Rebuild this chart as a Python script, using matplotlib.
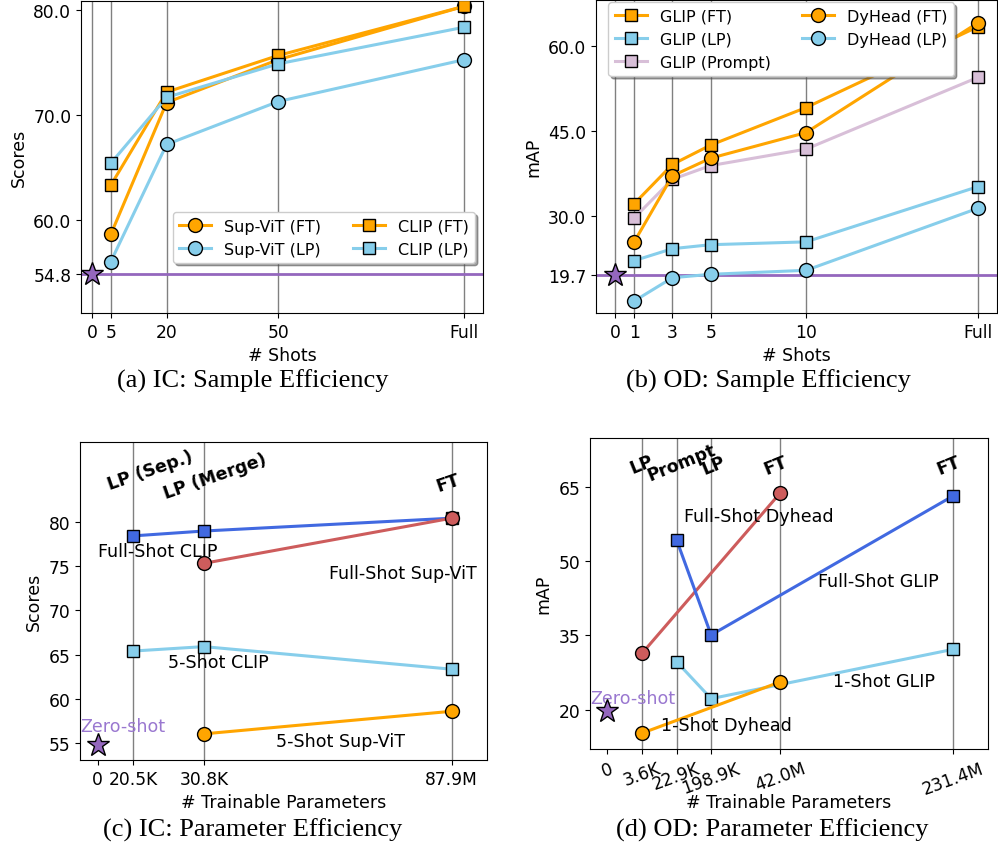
import numpy as np
import matplotlib
matplotlib.use("Agg")
import matplotlib.pyplot as plt

# (a) IC sample efficiency
ic_shots = [5, 20, 50, 100]
ic_shot_labels = ["0", "5", "20", "50", "Full"]
supvit_ft = [58.6, 71.2, 75.3, 80.4]
supvit_lp = [56.0, 67.2, 71.3, 75.3]
clip_ft = [63.3, 72.2, 75.7, 80.4]
clip_lp = [65.4, 71.7, 74.9, 78.4]
ic_zero = 54.8

# (b) OD sample efficiency
od_shots = [1, 3, 5, 10, 19]
od_shot_labels = ["0", "1", "3", "5", "10", "Full"]
glip_ft = [32.2, 39.1, 42.5, 49.1, 63.3]
glip_lp = [22.2, 24.3, 25.0, 25.5, 35.2]
glip_prompt = [29.7, 36.5, 38.9, 41.8, 54.4]
dyhead_ft = [25.5, 37.1, 40.2, 44.7, 64.0]
dyhead_lp = [15.1, 19.2, 19.8, 20.5, 31.4]
od_zero = 19.7

# (c) IC parameter efficiency
ic_param_pos = [0, 1, 3, 10]
ic_param_labels = ["0", "20.5K", "30.8K", "87.9M"]
full_clip_x, full_clip_y = [1, 3, 10], [78.4, 78.95, 80.4]
full_supvit_x, full_supvit_y = [3, 10], [75.3, 80.4]
five_clip_x, five_clip_y = [1, 3, 10], [65.4, 65.9, 63.35]
five_supvit_x, five_supvit_y = [3, 10], [56.05, 58.6]

# (d) OD parameter efficiency
od_param_pos = [0, 1, 2, 3, 5, 10]
od_param_labels = ["0", "3.6K", "22.9K", "198.9K", "42.0M", "231.4M"]
full_dyhead_x, full_dyhead_y = [1, 5], [31.35, 63.9]
full_glip_x, full_glip_y = [2, 3, 10], [54.4, 35.1, 63.3]
one_glip_x, one_glip_y = [2, 3, 10], [29.7, 22.2, 32.2]
one_dyhead_x, one_dyhead_y = [1, 5], [15.2, 25.6]

ORANGE = "orange"
SKY = "skyblue"
THISTLE = "thistle"
ROYAL = "royalblue"
RED = "indianred"
PURPLE = "#9467bd"
PURPLE_TXT = "#9a78d0"

W, H = 998, 845
fig = plt.figure(figsize=(W / 100, H / 100), dpi=100)


def px_axes(left, top, right, bottom):
    return fig.add_axes([left / W, 1 - bottom / H, (right - left) / W, (bottom - top) / H])


def line(ax, x, y, color, marker, label=None):
    ms = 10 if marker == "o" else 8.5
    ax.plot(x, y, color=color, lw=2.2, marker=marker, ms=ms, mfc=color,
            mec="black", mew=1, label=label, zorder=3)


fs = 12.3      # ticks
lfs = 12.5     # axis labels
gfs = 11.5     # legend
afs = 12.6     # annotations
bfs = 12.5     # bold labels

# ---- (a)
ax = px_axes(81, 2, 483, 314)
ax.axhline(ic_zero, color=PURPLE, lw=2, zorder=2)
ax.plot([0], [ic_zero], marker="*", ms=17, mfc=PURPLE, mec="black", mew=1, ls="none", zorder=4)
line(ax, ic_shots, supvit_ft, ORANGE, "o", "Sup-ViT (FT)")
line(ax, ic_shots, supvit_lp, SKY, "o", "Sup-ViT (LP)")
line(ax, ic_shots, clip_ft, ORANGE, "s", "CLIP (FT)")
line(ax, ic_shots, clip_lp, SKY, "s", "CLIP (LP)")
ax.set_xticks([0] + ic_shots)
ax.set_xticklabels(ic_shot_labels)
ax.set_yticks([ic_zero, 60, 70, 80])
ax.set_yticklabels([f"{v:.1f}" for v in [ic_zero, 60, 70, 80]])
ax.set_xlim(-3, 105)
ax.set_ylim(51.1, 80.9)
ax.xaxis.grid(True, color="gray", lw=1)
ax.set_axisbelow(True)
ax.tick_params(labelsize=fs)
ax.set_xlabel("# Shots", fontsize=lfs)
ax.set_ylabel("Scores", fontsize=lfs)
ax.legend(ncol=2, loc="lower right", bbox_to_anchor=(1.0, 0.135), shadow=True, fontsize=gfs)

# ---- (b)
ax = px_axes(596, 1, 997, 314)
ax.axhline(od_zero, color=PURPLE, lw=2, zorder=2)
ax.plot([0], [od_zero], marker="*", ms=17, mfc=PURPLE, mec="black", mew=1, ls="none", zorder=4)
line(ax, od_shots, glip_ft, ORANGE, "s", "GLIP (FT)")
line(ax, od_shots, glip_lp, SKY, "s", "GLIP (LP)")
line(ax, od_shots, glip_prompt, THISTLE, "s", "GLIP (Prompt)")
line(ax, od_shots, dyhead_ft, ORANGE, "o", "DyHead (FT)")
line(ax, od_shots, dyhead_lp, SKY, "o", "DyHead (LP)")
ax.set_xticks([0] + od_shots)
ax.set_xticklabels(od_shot_labels)
ax.set_yticks([od_zero, 30, 45, 60])
ax.set_yticklabels([f"{v:.1f}" for v in [od_zero, 30, 45, 60]])
ax.set_xlim(-1, 20)
ax.set_ylim(13, 68)
ax.xaxis.grid(True, color="gray", lw=1)
ax.set_axisbelow(True)
ax.tick_params(labelsize=fs)
ax.set_xlabel("# Shots", fontsize=lfs)
ax.set_ylabel("mAP", fontsize=lfs)
ax.legend(ncol=2, loc="upper left", bbox_to_anchor=(0.011, 1.018), shadow=True, fontsize=gfs)

# ---- (c)
ax = px_axes(80, 443, 487, 761)
for xp in ic_param_pos[1:]:
    ax.axvline(xp, color="gray", lw=1, zorder=1)
ax.plot([0], [ic_zero], marker="*", ms=17, mfc=PURPLE, mec="black", mew=1, ls="none", zorder=4)
line(ax, full_clip_x, full_clip_y, ROYAL, "s")
line(ax, full_supvit_x, full_supvit_y, RED, "o")
line(ax, five_clip_x, five_clip_y, SKY, "s")
line(ax, five_supvit_x, five_supvit_y, ORANGE, "o")
ax.text(-0.5, 56.9, "Zero-shot", color=PURPLE_TXT, fontsize=afs, va="center", ha="left")
ax.text(0.0, 76.65, "Full-Shot CLIP", fontsize=afs, va="center", ha="left")
ax.text(6.54, 74.2, "Full-Shot Sup-ViT", fontsize=afs, va="center", ha="left")
ax.text(2.0, 64.2, "5-Shot CLIP", fontsize=afs, va="center", ha="left")
ax.text(5.03, 55.25, "5-Shot Sup-ViT", fontsize=afs, va="center", ha="left")
ax.text(1.47, 85.8, "LP (Sep.)", fontsize=bfs, fontweight="bold", rotation=19, ha="center", va="center")
ax.text(3.33, 85.2, "LP (Merge)", fontsize=bfs, fontweight="bold", rotation=19, ha="center", va="center")
ax.text(9.9, 84.45, "FT", fontsize=bfs, fontweight="bold", rotation=19, ha="center", va="center")
ax.set_xticks(ic_param_pos)
ax.set_xticklabels(ic_param_labels)
ax.set_yticks([55, 60, 65, 70, 75, 80])
ax.set_xlim(-0.5, 11)
ax.set_ylim(53.1, 89)
ax.tick_params(labelsize=fs)
ax.set_xlabel("# Trainable Parameters", fontsize=lfs)
ax.set_ylabel("Scores", fontsize=lfs)

# ---- (d)
ax = px_axes(590, 439, 988, 750)
for xp in od_param_pos[1:]:
    ax.axvline(xp, color="gray", lw=1, zorder=1)
ax.plot([0], [od_zero], marker="*", ms=17, mfc=PURPLE, mec="black", mew=1, ls="none", zorder=4)
line(ax, full_dyhead_x, full_dyhead_y, RED, "o")
line(ax, full_glip_x, full_glip_y, ROYAL, "s")
line(ax, one_glip_x, one_glip_y, SKY, "s")
line(ax, one_dyhead_x, one_dyhead_y, ORANGE, "o")
ax.text(-0.48, 22.4, "Zero-shot", color=PURPLE_TXT, fontsize=afs, va="center", ha="left")
ax.text(1.55, 16.8, "1-Shot Dyhead", fontsize=afs, va="center", ha="left")
ax.text(6.52, 25.7, "1-Shot GLIP", fontsize=afs, va="center", ha="left")
ax.text(6.1, 46.1, "Full-Shot GLIP", fontsize=afs, va="center", ha="left")
ax.text(2.22, 59.2, "Full-Shot Dyhead", fontsize=afs, va="center", ha="left")
for tx, ty, tl in [(0.99, 69.8, "LP"), (2.14, 70.2, "Prompt"), (3.06, 69.5, "LP"),
                   (4.87, 69.5, "FT"), (9.86, 69.5, "FT")]:
    ax.text(tx, ty, tl, fontsize=bfs, fontweight="bold", rotation=22, ha="center", va="center")
ax.set_xticks(od_param_pos)
ax.set_xticklabels(od_param_labels, rotation=20)
ax.set_yticks([20, 35, 50, 65])
ax.set_xlim(-0.5, 11)
ax.set_ylim(12, 75)
ax.tick_params(labelsize=fs)
ax.set_xlabel("# Trainable Parameters", fontsize=lfs)
ax.xaxis.set_label_coords(0.5, -0.14)
ax.set_ylabel("mAP", fontsize=lfs)

# captions
cap = dict(fontsize=19, family="Liberation Serif", ha="center", va="center")
fig.text(253 / W, 1 - 381 / H, "(a) IC: Sample Efficiency", **cap)
fig.text(768 / W, 1 - 381 / H, "(b) OD: Sample Efficiency", **cap)
fig.text(253 / W, 1 - 830 / H, "(c) IC: Parameter Efficiency", **cap)
fig.text(772 / W, 1 - 830 / H, "(d) OD: Parameter Efficiency", **cap)

fig.savefig("out.png", dpi=100)
